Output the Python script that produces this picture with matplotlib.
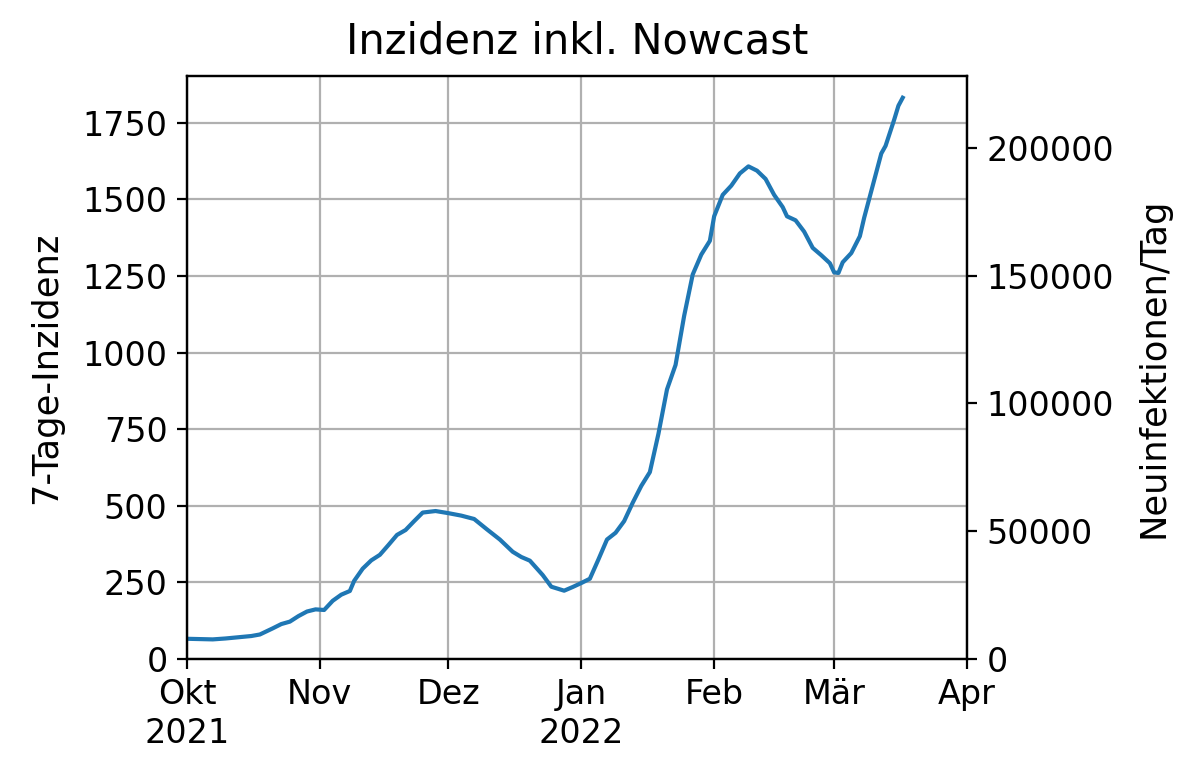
import matplotlib
matplotlib.use("Agg")
import matplotlib.pyplot as plt
import pandas as pd

# ---- data (7-day incidence) ----
start_date = "2021-10-01"
day_offsets = [0, 3, 6, 9, 12, 15, 17, 20, 22, 24, 26, 28, 30, 32, 34, 36, 38, 39,
               41, 43, 45, 47, 49, 51, 53, 55, 58, 61, 64, 67, 70, 73, 76, 78, 80,
               83, 85, 88, 90, 92, 94, 96, 98, 100, 102, 104, 106, 108, 110, 112,
               114, 115, 116, 118, 120, 122, 123, 125, 127, 129, 131, 133, 135, 137,
               139, 140, 142, 144, 146, 148, 150, 151, 152, 153, 155, 157, 158, 160,
               162, 163, 165, 166, 167]
incidence = [66, 65, 64, 67, 71, 75, 80, 100, 114, 122, 140, 155, 162, 160, 190,
             210, 222, 255, 295, 322, 340, 372, 405, 421, 450, 478, 483, 476, 468,
             457, 423, 390, 350, 333, 321, 274, 236, 223, 235, 248, 262, 325, 390,
             412, 450, 510, 565, 610, 735, 880, 960, 1040, 1120, 1255, 1320, 1365,
             1445, 1515, 1545, 1585, 1608, 1594, 1567, 1515, 1475, 1445, 1432, 1395,
             1342, 1318, 1292, 1262, 1260, 1295, 1325, 1380, 1440, 1545, 1650, 1675,
             1760, 1806, 1832]
month_ticks = ["2021-10-01", "2021-11-01", "2021-12-01", "2022-01-01",
               "2022-02-01", "2022-03-01", "2022-04-01"]
month_labels = ["Okt\n2021", "Nov", "Dez", "Jan\n2022", "Feb", "Mär", "Apr"]
left_ticks = [0, 250, 500, 750, 1000, 1250, 1500, 1750]
right_ticks = [0, 50000, 100000, 150000, 200000]
cases_per_incidence = 119.9

dates = pd.Timestamp(start_date) + pd.to_timedelta(day_offsets, unit="D")

plt.rcParams["font.family"] = ["DejaVu Sans"]

fig = plt.figure(figsize=(6.0, 3.915), dpi=200)
ax = fig.add_axes([187/1200, 1-659/783, (967-187)/1200, (659-76)/783])

ax.plot(dates, incidence, color="#1f77b4", lw=1.5)
ax.set_xlim(pd.Timestamp("2021-10-01"), pd.Timestamp("2022-04-01"))
ymax = 1903
ax.set_ylim(0, ymax)
ax.set_yticks(left_ticks)
ax.set_xticks(pd.to_datetime(month_ticks))
ax.set_xticklabels(month_labels)
ax.grid(True, color="#b0b0b0", lw=0.8)
ax.tick_params(labelsize=12)
ax.set_ylabel("7-Tage-Inzidenz", fontsize=12.7, labelpad=7)
ax.set_title("Inzidenz inkl. Nowcast", fontsize=15, pad=8)

ax2 = ax.twinx()
ax2.set_ylim(0, ymax * cases_per_incidence)
ax2.set_yticks(right_ticks)
ax2.tick_params(labelsize=12)
ax2.set_ylabel("Neuinfektionen/Tag", fontsize=12.7, labelpad=8)

fig.savefig("out.png", dpi=200)
